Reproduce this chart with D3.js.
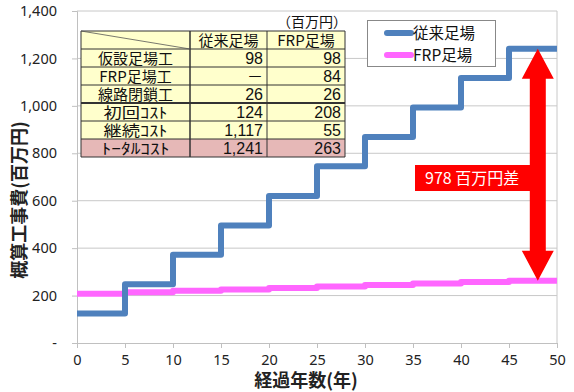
<!DOCTYPE html>
<html>
<head>
<meta charset="utf-8">
<script src="https://cdn.jsdelivr.net/npm/d3@7"></script>
<style>
  html, body { margin: 0; padding: 0; background: #fff; }
  svg { display: block; }
</style>
</head>
<body>
<svg id="chart" width="574" height="392"></svg>
<script>
// Years at which each cost step begins
const years = [0, 5, 10, 15, 20, 25, 30, 35, 40, 45, 50];
// Cumulative cost, conventional scaffolding (百万円)
const conventional = [124, 248, 372, 496, 620, 745, 869, 993, 1117, 1241, 1241];
// Cumulative cost, FRP scaffolding (百万円)
const frp = [208, 214, 220, 226, 232, 238, 245, 251, 257, 263, 263];
const seriesNames = ["従来足場", "FRP足場"];
const xTicks = [0, 5, 10, 15, 20, 25, 30, 35, 40, 45, 50];
const yTicks = [0, 200, 400, 600, 800, 1000, 1200, 1400];

// Cost breakdown table
const tableHeader = ["", "従来足場", "FRP足場"];
const tableRowLabels = ["仮設足場工", "FRP足場工", "線路閉鎖工", "初回ｺｽﾄ", "継続ｺｽﾄ", "ﾄｰﾀﾙｺｽﾄ"];
const tableConventional = ["98", "－", "26", "124", "1,117", "1,241"];
const tableFrp = ["98", "84", "26", "208", "55", "263"];

const diffYear = 48;
const diffTop = conventional[conventional.length - 1];
const diffBottom = frp[frp.length - 1];

const svg = d3.select("#chart");
const font = "'Noto Sans CJK JP', 'Noto Sans', sans-serif";
const latin = "'Noto Sans', 'Open Sans', sans-serif";
const numFont = "'Liberation Sans', 'Noto Sans CJK JP', sans-serif";
const plot = { left: 77, right: 557, top: 11, bottom: 343 };

const x = d3.scaleLinear().domain([0, 50]).range([plot.left, plot.right]);
const y = d3.scaleLinear().domain([0, 1400]).range([plot.bottom, plot.top]);

// Gridlines
svg.append("g")
  .selectAll("line")
  .data(yTicks.filter(v => v > 0))
  .join("line")
  .attr("x1", plot.left).attr("x2", plot.right)
  .attr("y1", d => y(d)).attr("y2", d => y(d))
  .attr("stroke", "#c8c8c8").attr("stroke-width", 1);

// Plot frame (right side)
svg.append("line")
  .attr("x1", plot.right).attr("x2", plot.right)
  .attr("y1", plot.top).attr("y2", plot.bottom)
  .attr("stroke", "#c8c8c8");

// Y axis
const yAxis = svg.append("g")
  .attr("transform", `translate(${plot.left},0)`)
  .call(d3.axisLeft(y).tickValues(yTicks).tickSize(5).tickPadding(15)
    .tickFormat(d => d === 0 ? "-" : d3.format(",")(d)));
yAxis.select(".domain").attr("stroke", "#c0c0c0");
yAxis.selectAll(".tick line").attr("stroke", "#c0c0c0");
yAxis.selectAll("text").attr("font-family", latin)
  .attr("font-size", 14.5).attr("fill", "#222");

// X axis
const xAxis = svg.append("g")
  .attr("transform", `translate(0,${plot.bottom})`)
  .call(d3.axisBottom(x).tickValues(xTicks).tickSize(5).tickPadding(7));
xAxis.select(".domain").attr("stroke", "#c0c0c0");
xAxis.selectAll(".tick line").attr("stroke", "#c0c0c0");
xAxis.selectAll("text").attr("font-family", latin)
  .attr("font-size", 14.5).attr("fill", "#222");

// Axis titles
svg.append("text")
  .attr("transform", `translate(26,200) rotate(-90)`)
  .attr("text-anchor", "middle")
  .attr("font-family", font).attr("font-weight", "bold").attr("font-size", 18)
  .attr("fill", "#222")
  .text("概算工事費(百万円)");
svg.append("text")
  .attr("x", 306).attr("y", 387)
  .attr("text-anchor", "middle")
  .attr("font-family", font).attr("font-weight", "bold").attr("font-size", 18)
  .attr("fill", "#222")
  .text("経過年数(年)");

// Cost table
const tbl = { top: 31, rowH: 18, cols: [81, 190, 267, 345] };
const tg = svg.append("g");
const rowsAll = [tableHeader].concat(tableRowLabels.map((l, i) => [l, tableConventional[i], tableFrp[i]]));
rowsAll.forEach((row, r) => {
  const rowTop = tbl.top + r * tbl.rowH;
  const fill = r === rowsAll.length - 1 ? "#e6b8b7" : "#ffffcc";
  tg.append("rect")
    .attr("x", tbl.cols[0]).attr("y", rowTop)
    .attr("width", tbl.cols[3] - tbl.cols[0]).attr("height", tbl.rowH)
    .attr("fill", fill);
  row.forEach((cell, c) => {
    const numeric = r > 0 && c > 0;
    const t = tg.append("text")
      .attr("x", numeric ? tbl.cols[c + 1] - 4 : (tbl.cols[c] + tbl.cols[c + 1]) / 2)
      .attr("y", rowTop + tbl.rowH / 2 + 5.5)
      .attr("text-anchor", numeric ? "end" : "middle")
      .attr("font-family", numeric ? numFont : font)
      .attr("font-size", numeric ? 16 : 15)
      .attr("fill", "#111")
      .text(cell);
    // half-width katakana labels are stretched to the cell's label width
    if (c === 0 && r >= 4) {
      t.attr("textLength", r === 6 ? 68 : 64).attr("lengthAdjust", "spacingAndGlyphs");
    }
  });
});
// Table grid lines
for (let r = 0; r <= rowsAll.length; r++) {
  const yy = tbl.top + r * tbl.rowH;
  tg.append("line")
    .attr("x1", tbl.cols[0]).attr("x2", tbl.cols[3])
    .attr("y1", yy).attr("y2", yy)
    .attr("stroke", "#333").attr("stroke-width", r === 4 ? 2 : 1);
}
tbl.cols.forEach((cx, i) => {
  tg.append("line")
    .attr("x1", cx).attr("x2", cx)
    .attr("y1", tbl.top).attr("y2", tbl.top + rowsAll.length * tbl.rowH)
    .attr("stroke", "#333").attr("stroke-width", i === 1 ? 1.5 : 1);
});
tg.append("line")
  .attr("x1", tbl.cols[0]).attr("y1", tbl.top)
  .attr("x2", tbl.cols[1]).attr("y2", tbl.top + tbl.rowH)
  .attr("stroke", "#555").attr("stroke-width", 0.8);
tg.append("text")
  .attr("x", tbl.cols[3] + 2).attr("y", tbl.top - 4)
  .attr("text-anchor", "end")
  .attr("font-family", font).attr("font-size", 14).attr("fill", "#111")
  .text("（百万円）");

// Step lines
const line = d3.line()
  .x(d => x(d[0])).y(d => y(d[1]))
  .curve(d3.curveStepAfter);
const series = [
  { values: frp, color: "#ff66ff" },
  { values: conventional, color: "#4f81bd" }
];
series.forEach(s => {
  svg.append("path")
    .datum(years.map((yr, i) => [yr, s.values[i]]))
    .attr("d", line)
    .attr("fill", "none")
    .attr("stroke", s.color)
    .attr("stroke-width", 6)
    .attr("stroke-linejoin", "round");
});

// Legend
const lg = svg.append("g");
lg.append("rect")
  .attr("x", 367.5).attr("y", 20.5).attr("width", 128).attr("height", 46)
  .attr("fill", "#fff").attr("stroke", "#888");
[{ name: seriesNames[0], color: "#4f81bd" }, { name: seriesNames[1], color: "#ff66ff" }].forEach((d, i) => {
  const ly = 33 + i * 22;
  lg.append("line")
    .attr("x1", 387).attr("x2", 411).attr("y1", ly).attr("y2", ly)
    .attr("stroke", d.color).attr("stroke-width", 6).attr("stroke-linecap", "round");
  lg.append("text")
    .attr("x", 413).attr("y", ly + 6)
    .attr("font-family", font).attr("font-size", 15.5).attr("fill", "#111")
    .text(d.name);
});

// Difference arrow
const ax = x(diffYear);
const arrowTop = y(diffTop), arrowBot = y(diffBottom);
const headH = 30, headW = 16, shaftW = 8;
const arrow = d3.path();
arrow.moveTo(ax, arrowTop);
arrow.lineTo(ax + headW, arrowTop + headH);
arrow.lineTo(ax + shaftW, arrowTop + headH);
arrow.lineTo(ax + shaftW, arrowBot - headH);
arrow.lineTo(ax + headW, arrowBot - headH);
arrow.lineTo(ax, arrowBot);
arrow.lineTo(ax - headW, arrowBot - headH);
arrow.lineTo(ax - shaftW, arrowBot - headH);
arrow.lineTo(ax - shaftW, arrowTop + headH);
arrow.lineTo(ax - headW, arrowTop + headH);
arrow.closePath();
svg.append("path").attr("d", arrow.toString()).attr("fill", "#ff0000");

// Difference label
svg.append("rect")
  .attr("x", 415).attr("y", 165).attr("width", ax - shaftW - 415 + 1).attr("height", 26)
  .attr("fill", "#ff0000");
svg.append("text")
  .attr("x", 425).attr("y", 184)
  .attr("font-family", font).attr("font-size", 16).attr("fill", "#fff")
  .text(`${diffTop - diffBottom} 百万円差`);
</script>
</body>
</html>
